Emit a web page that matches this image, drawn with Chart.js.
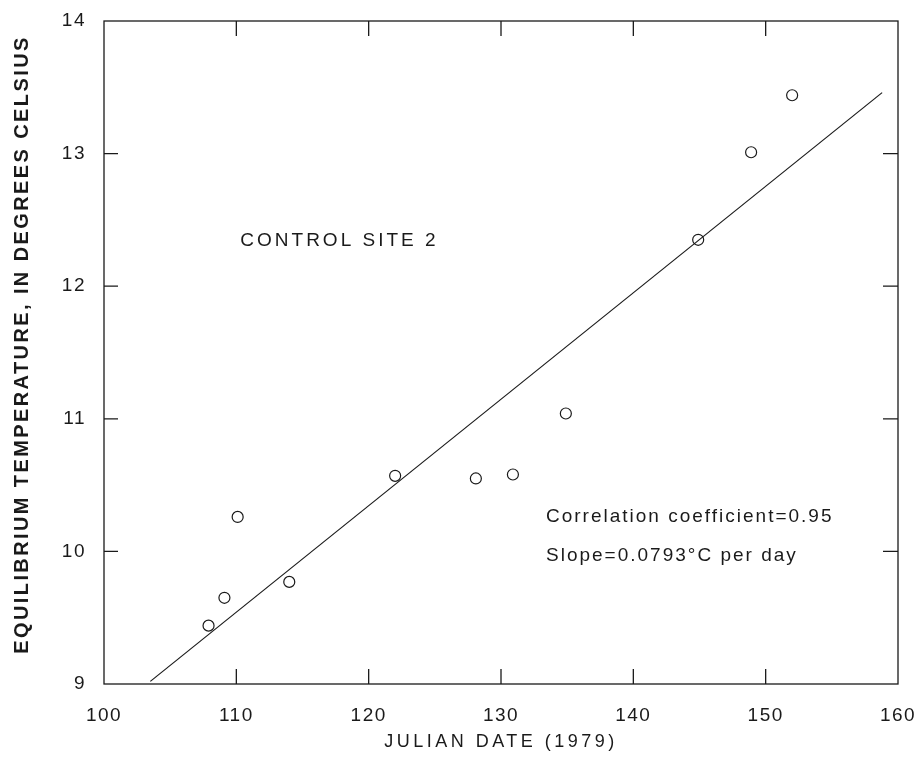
<!DOCTYPE html>
<html>
<head>
<meta charset="utf-8">
<script src="https://cdn.jsdelivr.net/npm/chart.js@4/dist/chart.umd.min.js"></script>
<style>
  body { margin: 0; background: #fff; }
  #wrap { width: 923px; height: 765px; }
</style>
</head>
<body>
<div id="wrap"><canvas id="chart" width="923" height="765"></canvas></div>
<script>
const julianDays = [107.9, 109.1, 110.1, 114.0, 122.0, 128.1, 130.9, 134.9, 144.9, 148.9, 152.0];
const equilibriumTemps = [9.44, 9.65, 10.26, 9.77, 10.57, 10.55, 10.58, 11.04, 12.35, 13.01, 13.44];

// fitted regression line end points
const fitDays = [103.5, 158.8];
const fitTemps = [9.02, 13.46];

const xTicks = [100, 110, 120, 130, 140, 150, 160];
const yTicks = [9, 10, 11, 12, 13, 14];

const siteLabel = 'CONTROL SITE 2';
const statLines = ['Correlation coefficient=0.95', 'Slope=0.0793\u00B0C per day'];
const xTitle = 'JULIAN DATE (1979)';
const yTitle = 'EQUILIBRIUM TEMPERATURE, IN DEGREES CELSIUS';

const ink = '#1a1a1a';
const font = '"Liberation Sans", Arial, Helvetica, sans-serif';

const framePlugin = {
  id: 'frame',
  beforeDraw(chart) {
    chart.ctx.letterSpacing = '1.5px';
  },
  afterDatasetsDraw(chart) {
    const { ctx, chartArea: a, scales } = chart;
    ctx.save();
    ctx.strokeStyle = ink;
    ctx.lineWidth = 1.3;
    ctx.strokeRect(a.left, a.top, a.right - a.left, a.bottom - a.top);
    ctx.beginPath();
    xTicks.slice(1, -1).forEach(v => {
      const px = scales.x.getPixelForValue(v);
      ctx.moveTo(px, a.bottom); ctx.lineTo(px, a.bottom - 15);
      ctx.moveTo(px, a.top); ctx.lineTo(px, a.top + 15);
    });
    yTicks.slice(1, -1).forEach(v => {
      const py = scales.y.getPixelForValue(v);
      ctx.moveTo(a.left, py); ctx.lineTo(a.left + 14, py);
      ctx.moveTo(a.right, py); ctx.lineTo(a.right - 15, py);
    });
    ctx.stroke();

    // text inside the plot
    ctx.fillStyle = ink;
    ctx.textBaseline = 'middle';
    ctx.textAlign = 'left';
    ctx.font = '19px ' + font;
    ctx.letterSpacing = '3px';
    ctx.fillText(siteLabel, scales.x.getPixelForValue(110.3), scales.y.getPixelForValue(12.34));
    ctx.letterSpacing = '2px';
    ctx.fillText(statLines[0], scales.x.getPixelForValue(133.4), scales.y.getPixelForValue(10.26));
    ctx.fillText(statLines[1], scales.x.getPixelForValue(133.4), scales.y.getPixelForValue(9.97));

    // axis titles
    ctx.textAlign = 'center';
    ctx.font = '18px ' + font;
    ctx.letterSpacing = '3.5px';
    ctx.fillText(xTitle, (a.left + a.right) / 2, 742);
    ctx.save();
    ctx.translate(22, (a.top + a.bottom) / 2 - 8);
    ctx.rotate(-Math.PI / 2);
    ctx.font = 'bold 20px ' + font;
    ctx.letterSpacing = '2.4px';
    ctx.fillText(yTitle, 0, 0);
    ctx.restore();
    ctx.restore();
  }
};

new Chart(document.getElementById('chart'), {
  type: 'scatter',
  data: {
    datasets: [
      {
        label: 'Observed',
        data: julianDays.map((d, i) => ({ x: d, y: equilibriumTemps[i] })),
        pointStyle: 'circle',
        pointRadius: 5.5,
        pointBackgroundColor: 'rgba(0,0,0,0)',
        pointBorderColor: ink,
        pointBorderWidth: 1.2,
        order: 1
      },
      {
        label: 'Fit',
        type: 'line',
        data: fitDays.map((d, i) => ({ x: d, y: fitTemps[i] })),
        borderColor: ink,
        borderWidth: 1.2,
        pointRadius: 0,
        fill: false,
        tension: 0,
        order: 2
      }
    ]
  },
  plugins: [framePlugin],
  options: {
    responsive: false,
    animation: false,
    layout: { padding: { top: 21, right: 25, left: 0, bottom: 0 } },
    plugins: {
      legend: { display: false },
      tooltip: { enabled: false }
    },
    scales: {
      x: {
        type: 'linear',
        min: 100,
        max: 160,
        afterFit: scale => {
          scale.height = 81;
          scale.paddingLeft = 0;
          scale.paddingRight = 0;
        },
        afterBuildTicks: scale => { scale.ticks = xTicks.map(v => ({ value: v })); },
        grid: { display: false },
        border: { display: false },
        ticks: { color: ink, padding: 12, font: { family: font, size: 19 } }
      },
      y: {
        min: 9,
        max: 14,
        afterFit: scale => {
          scale.width = 104;
          scale.paddingTop = 0;
          scale.paddingBottom = 0;
        },
        afterBuildTicks: scale => { scale.ticks = yTicks.map(v => ({ value: v })); },
        grid: { display: false },
        border: { display: false },
        ticks: { color: ink, padding: 10, font: { family: font, size: 19 } }
      }
    }
  }
});
</script>
</body>
</html>
